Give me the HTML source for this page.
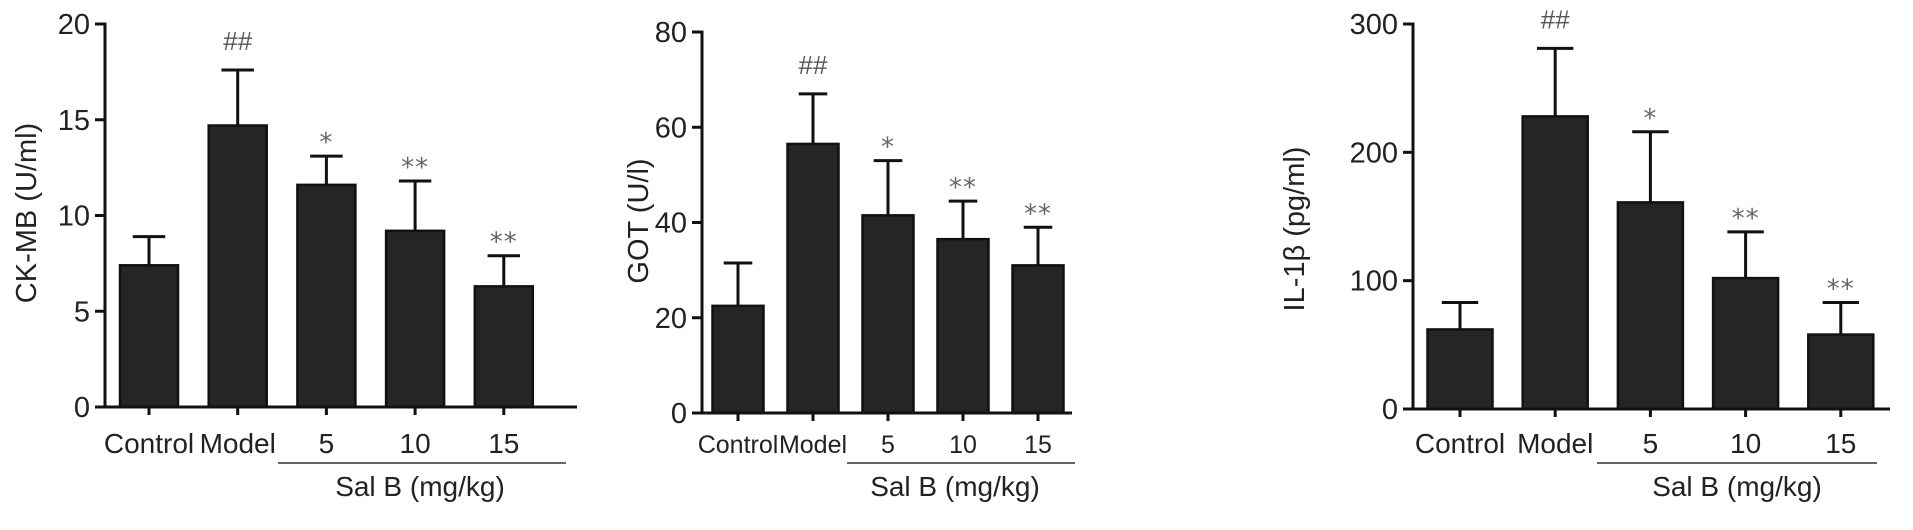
<!DOCTYPE html>
<html><head><meta charset="utf-8"><style>
html,body{margin:0;padding:0;background:#fff;}
svg{display:block;font-family:"Liberation Sans",Arial,sans-serif;}
</style></head><body>
<svg id="fig" width="1913" height="530" viewBox="0 0 1913 530" xmlns="http://www.w3.org/2000/svg"></svg>
<script>
const categories = ["Control","Model","5","10","15"];
const ckmbValues = [7.4,14.7,11.6,9.2,6.3];
const ckmbErrors = [1.5,2.9,1.5,2.6,1.6];
const ckmbMarks = ["","##","*","**","**"];
const ckmbTicks = [0,5,10,15,20];
const gotValues = [22.5,56.5,41.5,36.5,31];
const gotErrors = [9,10.5,11.5,8,8];
const gotMarks = ["","##","*","**","**"];
const gotTicks = [0,20,40,60,80];
const il1bValues = [62,228,161,102,58];
const il1bErrors = [21,53,55,36,25];
const il1bMarks = ["","##","*","**","**"];
const il1bTicks = [0,100,200,300];

const NS="http://www.w3.org/2000/svg";
const svg=document.getElementById('fig');
function mk(tag,attrs,parent,text){const e=document.createElementNS(NS,tag);for(const k in attrs)e.setAttribute(k,attrs[k]);if(text!==undefined)e.textContent=text;(parent||svg).appendChild(e);return e;}

function chart(cfg){
  const g=mk('g',{});
  
  
  const yMax=cfg.ticks[cfg.ticks.length-1];
  const y=v=>cfg.y0-(v/yMax)*(cfg.y0-cfg.yTop);
  const x=i=>cfg.x0+i*cfg.step;
  cfg.values.forEach((v,i)=>{
    const cx=x(i), top=y(v), et=y(v+cfg.errors[i]);
    const el=mk('line',{x1:cx,x2:cx,y1:top,y2:et,stroke:'#111','stroke-width':3},g);
    
    
    const cap=mk('line',{x1:cx-cfg.bw*0.28,x2:cx+cfg.bw*0.28,y1:et,y2:et,stroke:'#111','stroke-width':3},g);
    
    
    const r=mk('rect',{x:cx-cfg.bw/2,y:top,width:cfg.bw,height:cfg.y0-top,fill:'#252525',stroke:'#111','stroke-width':2.5},g);
    
    
    const m=cfg.marks[i];
    if(m){
      let t;
      if(m==='##'){
        t=mk('text',{x:cx,y:et-20,'text-anchor':'middle','font-size':26,fill:'#555'},g,m);
      } else {
        t=mk('text',{x:cx,y:et-5,'text-anchor':'middle','font-size':26,fill:'#666','font-family':'"DejaVu Sans",sans-serif','letter-spacing':1},g,m);
      }
      
      
    }
    const tk=mk('line',{x1:cx,x2:cx,y1:cfg.y0,y2:cfg.y0+8,stroke:'#111','stroke-width':3},g);
    
    
    const lb=mk('text',{x:cx,y:453,'text-anchor':'middle','font-size':cfg.labFs,fill:'#222'},g,categories[i]);
    
    
  });
  const ya=mk('line',{x1:cfg.ax,x2:cfg.ax,y1:cfg.yTop-1.5,y2:cfg.y0+1.5,stroke:'#111','stroke-width':3},g);
  
  
  const xa=mk('line',{x1:cfg.ax-10,x2:cfg.xEnd,y1:cfg.y0,y2:cfg.y0,stroke:'#111','stroke-width':3},g);
  
  
  cfg.ticks.forEach(t=>{
    const l=mk('line',{x1:cfg.ax-10,x2:cfg.ax,y1:y(t),y2:y(t),stroke:'#111','stroke-width':3},g);
    
    
    const tx=mk('text',{x:cfg.ax-15,y:y(t)+10,'text-anchor':'end','font-size':29,fill:'#222'},g,String(t));
    
    
  });
  const yt=mk('text',{x:0,y:0,'text-anchor':'middle','font-size':29,fill:'#222',transform:`translate(${cfg.ytX},${cfg.ytY}) rotate(-90)`},g,cfg.title);
  
  
  const sl=mk('line',{x1:cfg.salX1,x2:cfg.salX2,y1:463,y2:463,stroke:'#333','stroke-width':1.5},g);
  
  
  const st=mk('text',{x:cfg.salTX,y:496,'text-anchor':'middle','font-size':28,fill:'#222'},g,'Sal B (mg/kg)');
  
  
}

chart({name:'ckmb-chart',values:ckmbValues,errors:ckmbErrors,marks:ckmbMarks,ticks:ckmbTicks,
  ax:105,y0:407,yTop:24,x0:149,step:88.7,bw:58,xEnd:577,title:'CK-MB (U/ml)',ytX:36,ytY:213,
  salX1:278,salX2:566,salTX:420,labFs:28});
chart({name:'got-chart',values:gotValues,errors:gotErrors,marks:gotMarks,ticks:gotTicks,
  ax:702,y0:413,yTop:32,x0:738,step:75,bw:51,xEnd:1072,title:'GOT (U/l)',ytX:648,ytY:221,
  salX1:847,salX2:1075,salTX:955,labFs:25});
chart({name:'il1b-chart',values:il1bValues,errors:il1bErrors,marks:il1bMarks,ticks:il1bTicks,
  ax:1413,y0:409,yTop:24,x0:1460,step:95.2,bw:65,xEnd:1890,title:'IL-1β (pg/ml)',ytX:1304,ytY:229,
  salX1:1597,salX2:1877,salTX:1737,labFs:28});
</script>
</body></html>
